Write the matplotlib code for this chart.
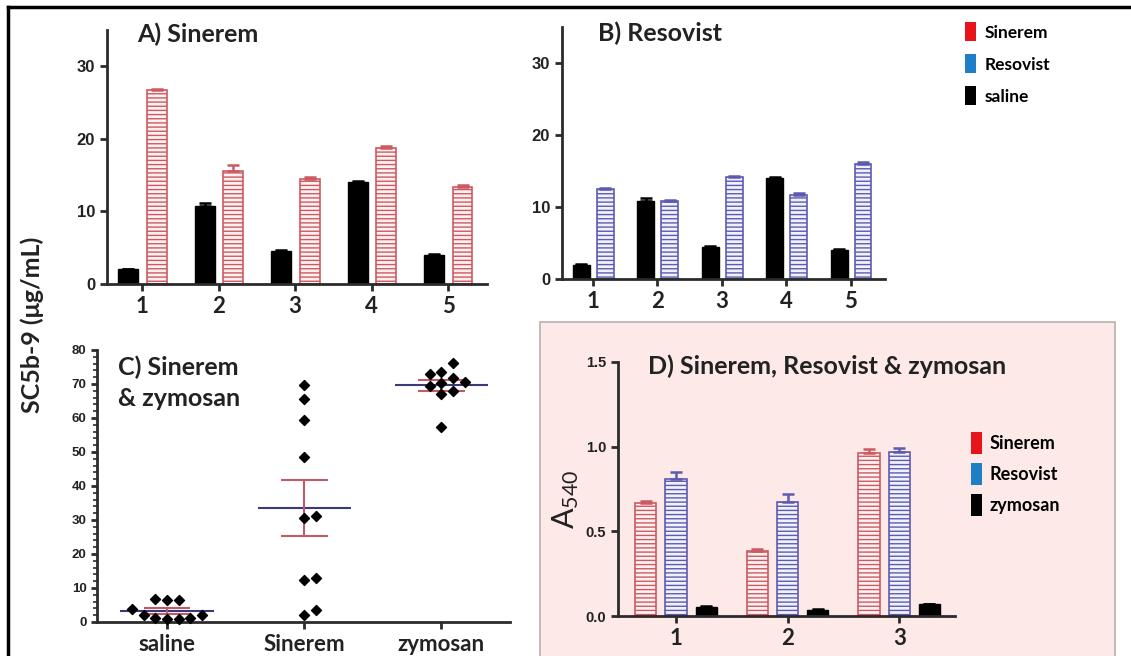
import numpy as np
import matplotlib.pyplot as plt
from matplotlib.patches import Patch, Rectangle
from matplotlib.lines import Line2D
from matplotlib.ticker import MultipleLocator

# panels A and B: SC5b-9 per sample
samples = [1, 2, 3, 4, 5]
saline_ab = [2.0, 10.8, 4.5, 14.0, 4.0]
saline_ab_err = [0.1, 0.4, 0.15, 0.2, 0.15]
sinerem_a = [26.8, 15.6, 14.5, 18.7, 13.4]
sinerem_a_err = [0.1, 0.8, 0.2, 0.3, 0.3]
resovist_b = [12.5, 10.8, 14.2, 11.7, 16.0]
resovist_b_err = [0.2, 0.2, 0.1, 0.2, 0.2]

# panel C: individual values
c_groups = ["saline", "Sinerem", "zymosan"]
c_saline = [3.9, 2.0, 6.4, 1.0, 6.4, 1.0, 6.9, 1.2, 1.2, 2.2]
c_sinerem = [69.6, 65.7, 59.5, 48.5, 30.6, 31.1, 12.9, 12.5, 2.2, 3.4]
c_zymosan = [76.1, 73.0, 73.5, 70.2, 70.6, 71.9, 67.8, 67.1, 69.3, 57.4]

# panel D: A540
d_samples = [1, 2, 3]
d_sinerem = [0.665, 0.385, 0.965]
d_sinerem_err = [0.015, 0.01, 0.02]
d_resovist = [0.81, 0.675, 0.97]
d_resovist_err = [0.04, 0.045, 0.02]
d_zymosan = [0.052, 0.035, 0.068]
d_zymosan_err = [0.005, 0.004, 0.005]

RED = "#cd5a62"
RED_FILL = "#fdf1f1"
BLUE = "#5d5bb0"
BLUE_FILL = "#f1f1fb"
AX = "#2b2b2b"
TXT = "#222222"
TICKFONT = "Liberation Sans"
TITLEFONT = "Lato"

plt.rcParams["hatch.linewidth"] = 1.0

fig = plt.figure(figsize=(11.31, 6.56), dpi=100)


def px_axes(left, right, top, bottom):
    W, H = 1131, 656
    return fig.add_axes([left / W, 1 - bottom / H, (right - left) / W, (bottom - top) / H])


def style_axes(ax, ysize=12, xsize=16):
    for s in ["top", "right"]:
        ax.spines[s].set_visible(False)
    for s in ["left", "bottom"]:
        ax.spines[s].set_linewidth(2)
        ax.spines[s].set_color(AX)
    ax.tick_params(direction="out", length=5, width=2, color=AX)
    for lab in ax.get_yticklabels():
        lab.set_fontfamily(TICKFONT)
        lab.set_fontweight("bold")
        lab.set_fontsize(ysize)
        lab.set_color(TXT)
    for lab in ax.get_xticklabels():
        lab.set_fontfamily(TITLEFONT)
        lab.set_fontweight("bold")
        lab.set_fontsize(xsize)
        lab.set_color(TXT)
    ax.patch.set_alpha(0)


def hatched_bars(ax, x, vals, errs, width, edge, fill):
    ax.bar(x, vals, width, color=fill, edgecolor=edge, hatch="----", linewidth=1.2, zorder=2)
    ax.errorbar(x, vals, yerr=[np.zeros(len(vals)), errs], fmt="none", ecolor=edge,
                elinewidth=1.8, capsize=4, capthick=1.8, zorder=3)


def black_bars(ax, x, vals, errs, width):
    ax.bar(x, vals, width, color="black", edgecolor="black", zorder=2)
    ax.errorbar(x, vals, yerr=[np.zeros(len(vals)), errs], fmt="none", ecolor="black",
                elinewidth=1.8, capsize=4, capthick=1.8, zorder=3)


# pink background of panel D
fig.patches.append(Rectangle((540 / 1131, -0.01), (1115 - 540) / 1131, (656 - 322) / 656 + 0.01,
                             transform=fig.transFigure, facecolor="#fce9e8",
                             edgecolor="#b8b0b0", linewidth=1.2, zorder=-5))
# frame lines at top and left
fig.lines.append(Line2D([8 / 1131, 1], [1 - 7 / 656, 1 - 7 / 656], transform=fig.transFigure,
                        color="black", linewidth=2.5))
fig.lines.append(Line2D([8 / 1131, 8 / 1131], [0, 1 - 7 / 656], transform=fig.transFigure,
                        color="black", linewidth=2.5))

x = np.array(samples, dtype=float)

# A
axA = px_axes(107, 487, 30, 284)
black_bars(axA, x - 0.18, saline_ab, saline_ab_err, 0.26)
hatched_bars(axA, x + 0.19, sinerem_a, sinerem_a_err, 0.26, RED, RED_FILL)
axA.set_xlim(0.54, 5.51)
axA.set_ylim(0, 35)
axA.set_yticks([0, 10, 20, 30])
axA.set_xticks(samples)
style_axes(axA)
axA.text(0.08, 1.03, "A) Sinerem", transform=axA.transAxes, fontsize=18, fontweight="bold",
         family=TITLEFONT, va="top", ha="left", color=TXT)

# B
axB = px_axes(562, 885, 27, 279)
black_bars(axB, x - 0.18, saline_ab, saline_ab_err, 0.26)
hatched_bars(axB, x + 0.19, resovist_b, resovist_b_err, 0.26, BLUE, BLUE_FILL)
axB.set_xlim(0.52, 5.53)
axB.set_ylim(0, 35)
axB.set_yticks([0, 10, 20, 30])
axB.set_xticks(samples)
style_axes(axB)
axB.text(0.11, 1.02, "B) Resovist", transform=axB.transAxes, fontsize=18, fontweight="bold",
         family=TITLEFONT, va="top", ha="left", color=TXT)
legB = [Patch(facecolor="#e8141c"), Patch(facecolor="#1f7fc6"), Patch(facecolor="black")]
axB.legend(legB, ["Sinerem", "Resovist", "saline"], loc="upper left",
           bbox_to_anchor=(1.2, 1.08), frameon=False, handlelength=0.6, handleheight=1.3,
           handletextpad=0.5, labelspacing=0.75,
           prop={"family": TITLEFONT, "weight": "bold", "size": 12.5})

# C
axC = px_axes(97, 510, 350, 622)
c_data = [c_saline, c_sinerem, c_zymosan]
axC.set_xlim(-0.51, 2.5)
axC.set_ylim(0, 80)


def swarm_offsets(ax, xc, vals, step=0.085, diam=10.5):
    placed = []
    offs = np.zeros(len(vals))
    for i in np.argsort(vals):
        for k in range(40):
            cand = 0.0 if k == 0 else ((k + 1) // 2) * step * (1 if k % 2 else -1)
            p = ax.transData.transform((xc + cand, vals[i]))
            if all(np.hypot(*(p - q)) >= diam for q in placed):
                break
        placed.append(p)
        offs[i] = cand
    return offs


for gi, vals in enumerate(c_data):
    vals = np.array(vals)
    offs = swarm_offsets(axC, gi, vals)
    axC.scatter(gi + offs, vals, marker="D", s=26, color="black", zorder=3, clip_on=False)
    m = vals.mean()
    sem = vals.std(ddof=1) / np.sqrt(len(vals))
    axC.hlines(m, gi - 0.34, gi + 0.34, color="#3a3a78", linewidth=1.5, zorder=2)
    axC.hlines([m - sem, m + sem], gi - 0.17, gi + 0.17, color="#c25a66", linewidth=1.5, zorder=2)
    axC.vlines(gi, m - sem, m + sem, color="#c25a66", linewidth=1.5, zorder=2)
axC.set_xticks(range(len(c_groups)))
axC.set_xticklabels(c_groups)
axC.set_yticks(range(0, 81, 10))
axC.yaxis.set_minor_locator(MultipleLocator(2))
style_axes(axC, ysize=9.5, xsize=16)
axC.tick_params(axis="y", which="minor", length=3, width=1.2, color=AX)
axC.tick_params(axis="y", length=4)
axC.text(0.05, 0.98, "C) Sinerem\n& zymosan", transform=axC.transAxes, fontsize=18,
         fontweight="bold", family=TITLEFONT, va="top", ha="left", color=TXT,
         linespacing=1.4)

# D
axD = px_axes(618, 955, 362, 616)
xd = np.array(d_samples, dtype=float)
hatched_bars(axD, xd - 0.27, d_sinerem, d_sinerem_err, 0.19, RED, RED_FILL)
hatched_bars(axD, xd, d_resovist, d_resovist_err, 0.19, BLUE, BLUE_FILL)
black_bars(axD, xd + 0.27, d_zymosan, d_zymosan_err, 0.19)
axD.set_xlim(0.48, 3.5)
axD.set_ylim(0, 1.5)
axD.set_yticks([0.0, 0.5, 1.0, 1.5])
axD.set_yticklabels(["0.0", "0.5", "1.0", "1.5"])
axD.set_xticks(d_samples)
style_axes(axD, ysize=10.5, xsize=16)
axD.text(0.09, 1.03, "D) Sinerem, Resovist & zymosan", transform=axD.transAxes, fontsize=18,
         fontweight="bold", family=TITLEFONT, va="top", ha="left", color=TXT)
axD.set_ylabel(r"$\mathregular{A_{540}}$", fontsize=22, family=TITLEFONT,
               labelpad=6, color=TXT)
axD.yaxis.set_label_coords(-0.11, 0.46)
legD = [Patch(facecolor="#e8141c"), Patch(facecolor="#1f7fc6"), Patch(facecolor="black")]
axD.legend(legD, ["Sinerem", "Resovist", "zymosan"], loc="upper left",
           bbox_to_anchor=(1.0, 0.79), frameon=False, handlelength=0.6, handleheight=1.5,
           handletextpad=0.4, labelspacing=0.5,
           prop={"family": TITLEFONT, "weight": "bold", "size": 13})

# shared y label
fig.text(32 / 1131, 1 - 325 / 656, "SC5b-9 (\u03bcg/mL)", rotation=90, ha="center", va="center",
         fontsize=18, fontweight="bold", family=TITLEFONT, color=TXT)

fig.savefig("out.png", dpi=100)
